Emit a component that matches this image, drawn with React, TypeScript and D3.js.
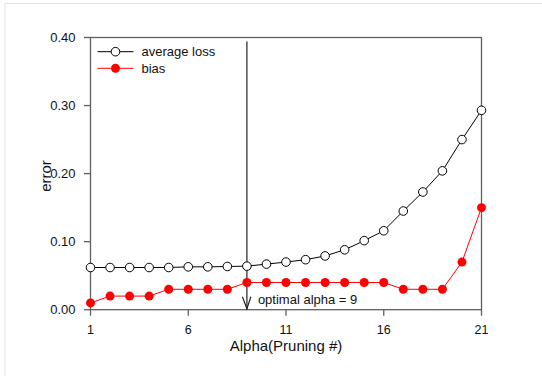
import React from "react";
import * as d3 from "d3";

const alphas = d3.range(1, 22);
const averageLoss = [0.062, 0.062, 0.062, 0.062, 0.062, 0.063, 0.063, 0.0635, 0.064, 0.067, 0.070, 0.0735, 0.079, 0.088, 0.1015, 0.116, 0.145, 0.173, 0.204, 0.250, 0.293];
const bias = [0.01, 0.02, 0.02, 0.02, 0.03, 0.03, 0.03, 0.03, 0.04, 0.04, 0.04, 0.04, 0.04, 0.04, 0.04, 0.04, 0.03, 0.03, 0.03, 0.07, 0.15];
const xTicks = [1, 6, 11, 16, 21];
const yTicks = [0, 0.1, 0.2, 0.3, 0.4];
const optimalAlpha = 9;

export default function App() {
  const W = 542, H = 376;
  const left = 90.5, right = 481.5, top = 37.5, bottom = 309.7;
  const x = d3.scaleLinear().domain([1, 21]).range([left, right]);
  const y = d3.scaleLinear().domain([0, 0.4]).range([bottom, top]);
  const line = d3.line<number>().x((_, i) => x(alphas[i])).y((d) => y(d));
  const font = "Arial, 'Liberation Sans', sans-serif";
  const ax = x(optimalAlpha);
  return (
    <svg width={W} height={H} style={{ position: "absolute", left: 0, top: 0, background: "#fff" }} fontFamily={font}>
      <rect x={5} y={3.5} width={W} height={H} fill="none" stroke="#e4e4e4" strokeWidth={1} />
      {/* axes frame */}
      <rect x={left} y={top} width={right - left} height={bottom - top} fill="none" stroke="#606060" strokeWidth={1.3} />
      {yTicks.map((t) => (
        <g key={"y" + t}>
          <line x1={left - 6.5} x2={left} y1={y(t)} y2={y(t)} stroke="#606060" strokeWidth={1.3} />
          <text x={left - 15} y={y(t)} dy="0.36em" textAnchor="end" fontSize={13} fill="#111">{t.toFixed(2)}</text>
        </g>
      ))}
      {xTicks.map((t) => (
        <g key={"x" + t}>
          <line x1={x(t)} x2={x(t)} y1={bottom} y2={bottom + 6} stroke="#606060" strokeWidth={1.3} />
          <text x={x(t)} y={333.5} textAnchor="middle" fontSize={12.5} fill="#111">{t}</text>
        </g>
      ))}
      <text x={(left + right) / 2} y={350.5} textAnchor="middle" fontSize={15} fill="#111">Alpha(Pruning #)</text>
      <text transform={`translate(50.5,176) rotate(-90)`} textAnchor="middle" fontSize={15} fill="#111">error</text>
      {/* arrow */}
      <line x1={ax} x2={ax} y1={41.5} y2={bottom} stroke="#222" strokeWidth={1.2} />
      <polyline points={`${ax - 4.5},${bottom - 13} ${ax},${bottom - 1} ${ax + 4},${bottom - 13}`} fill="none" stroke="#222" strokeWidth={1.2} />
      <text x={ax + 11} y={304} fontSize={13} fill="#111">optimal alpha = 9</text>
      {/* series */}
      <path d={line(averageLoss) || ""} fill="none" stroke="#000" strokeWidth={1} />
      {averageLoss.map((v, i) => (
        <circle key={"a" + i} cx={x(alphas[i])} cy={y(v)} r={4.3} fill="#fff" stroke="#000" strokeWidth={1} />
      ))}
      <path d={line(bias) || ""} fill="none" stroke="#ff0000" strokeWidth={1} />
      {bias.map((v, i) => (
        <circle key={"b" + i} cx={x(alphas[i])} cy={y(v)} r={4.5} fill="#ff0000" />
      ))}
      {/* legend */}
      <line x1={97.5} x2={133.5} y1={51.7} y2={51.7} stroke="#000" strokeWidth={1} />
      <circle cx={115.5} cy={51.7} r={4.3} fill="#fff" stroke="#000" strokeWidth={1} />
      <text x={141.5} y={51.7} dy="0.36em" fontSize={13} fill="#111">average loss</text>
      <line x1={97.5} x2={133.5} y1={68.3} y2={68.3} stroke="#ff0000" strokeWidth={1} />
      <circle cx={115.5} cy={68.3} r={4.5} fill="#ff0000" />
      <text x={141.5} y={68.3} dy="0.36em" fontSize={13} fill="#111">bias</text>
    </svg>
  );
}
